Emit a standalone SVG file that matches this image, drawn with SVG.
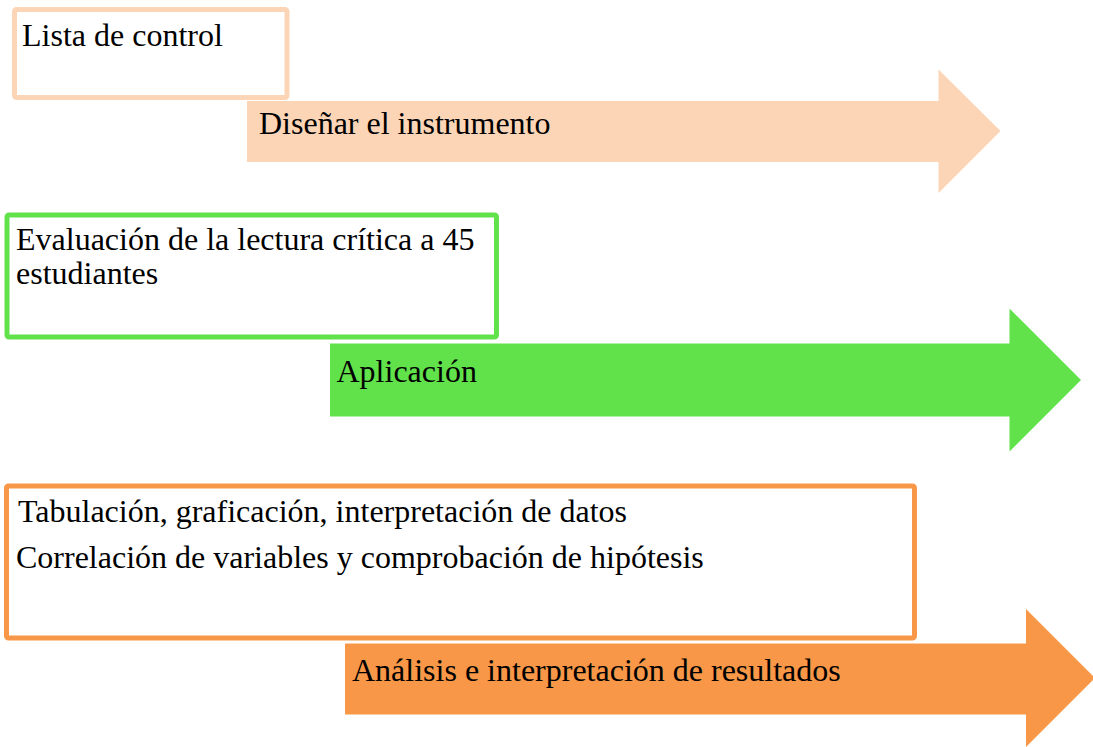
<svg xmlns="http://www.w3.org/2000/svg" width="1093" height="747" viewBox="0 0 1093 747">
  <style>
    text { font-family: "Liberation Serif", "Times New Roman", serif; font-size: 32px; fill: #000000; }
    .box { fill: #FFFFFF; stroke-width: 5; }
    .peach { fill: #FBD5B5; }
    .green { fill: #61E24B; }
    .orange { fill: #F79747; }
  </style>
  <rect width="1093" height="747" fill="#FFFFFF"/>

  <g id="step1-box">
    <rect class="box" x="14.5" y="9.5" width="272.5" height="88" rx="2" stroke="#FBD5B5"/>
    <text x="22" y="45.5">Lista de control</text>
  </g>
  <g id="step1-arrow">
    <polygon class="peach" points="247,101 938.5,101 938.5,69.5 1000.5,131 938.5,193 938.5,162 247,162"/>
    <text x="259" y="134">Diseñar el instrumento</text>
  </g>

  <g id="step2-box">
    <rect class="box" x="7" y="215" width="489.5" height="122" rx="2" stroke="#61E24B"/>
    <text x="16" y="250">Evaluación de la lectura crítica a 45</text>
    <text x="16" y="283.5">estudiantes</text>
  </g>
  <g id="step2-arrow">
    <polygon class="green" points="330,343.5 1009.5,343.5 1009.5,308.5 1081,380 1009.5,451.5 1009.5,416.5 330,416.5"/>
    <text x="336.5" y="381.5">Aplicación</text>
  </g>

  <g id="step3-box">
    <rect class="box" x="6.5" y="486" width="908" height="152" rx="2" stroke="#F79747"/>
    <text x="18" y="522">Tabulación, graficación, interpretación de datos</text>
    <text x="16" y="568">Correlación de variables y comprobación de hipótesis</text>
  </g>
  <g id="step3-arrow">
    <polygon class="orange" points="345,643.5 1026,643.5 1026,609 1095,678 1026,747 1026,714.5 345,714.5"/>
    <text x="352" y="681">Análisis e interpretación de resultados</text>
  </g>

  <g id="connectors"></g>
</svg>
